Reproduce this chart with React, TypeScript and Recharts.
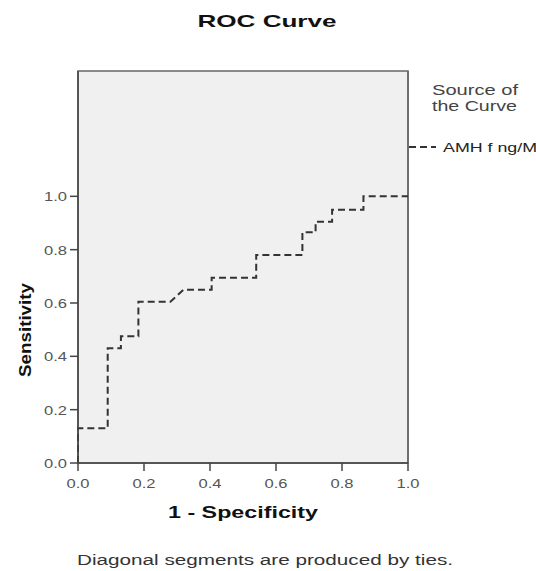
import React from 'react';
import {
  LineChart,
  Line,
  XAxis,
  YAxis,
  ReferenceArea,
  ReferenceLine,
} from 'recharts';

// ROC points (1 - specificity, sensitivity)
const fpr = [0, 0, 0.09, 0.09, 0.13, 0.13, 0.183, 0.183, 0.28, 0.32, 0.405, 0.405, 0.54, 0.54, 0.68, 0.68, 0.72, 0.72, 0.77, 0.77, 0.865, 0.865, 1.0];
const tpr = [0, 0.13, 0.13, 0.43, 0.43, 0.475, 0.475, 0.605, 0.605, 0.65, 0.65, 0.695, 0.695, 0.78, 0.78, 0.865, 0.865, 0.905, 0.905, 0.95, 0.95, 1.0, 1.0];
const xTicks = [0, 0.2, 0.4, 0.6, 0.8, 1.0];
const yTicks = [0, 0.2, 0.4, 0.6, 0.8, 1.0];
const yTop = 1.47;
const seriesName = 'AMH f ng/Ml';

const data = fpr.map((x, i) => ({ x, y: tpr[i] }));

const FONT = '"Liberation Sans", Arial, sans-serif';
const TICK_COLOR = '#555';

const XTick = (props: any) => {
  const { x, y, payload } = props;
  return (
    <text x={x} y={y + 15} textAnchor="middle" fontFamily={FONT} fontSize={13} fill={TICK_COLOR}
      textLength={23} lengthAdjust="spacingAndGlyphs">
      {Number(payload.value).toFixed(1)}
    </text>
  );
};

const YTick = (props: any) => {
  const { x, y, payload } = props;
  return (
    <text x={x - 1} y={y + 5} textAnchor="end" fontFamily={FONT} fontSize={13} fill={TICK_COLOR}
      textLength={23} lengthAdjust="spacingAndGlyphs">
      {Number(payload.value).toFixed(1)}
    </text>
  );
};

export default function App() {
  return (
    <div style={{ position: 'absolute', left: 0, top: 0, width: 536, height: 571, background: '#fff', overflow: 'hidden' }}>
      <LineChart
        width={536}
        height={571}
        data={data}
        margin={{ top: 71, right: 128, left: 48, bottom: 78 }}
      >
        <ReferenceArea x1={0} x2={1} y1={0} y2={yTop} fill="#f0f0f0" fillOpacity={1} stroke="#666" strokeWidth={1.5} ifOverflow="extendDomain" />
        <XAxis
          type="number"
          dataKey="x"
          domain={[0, 1]}
          ticks={xTicks}
          height={30}
          tickSize={8}
          axisLine={{ stroke: '#444', strokeWidth: 1.5 }}
          tickLine={{ stroke: '#444', strokeWidth: 1.5 }}
          tick={<XTick />}
        />
        <YAxis
          type="number"
          domain={[0, yTop]}
          ticks={yTicks}
          width={30}
          tickSize={8}
          allowDataOverflow
          axisLine={{ stroke: '#444', strokeWidth: 1.5 }}
          tickLine={{ stroke: '#444', strokeWidth: 1.5 }}
          tick={<YTick />}
        />
        <ReferenceLine x={1} stroke="#666" strokeWidth={1.5} />
        <Line
          type="linear"
          dataKey="y"
          name={seriesName}
          stroke="#333"
          strokeWidth={2}
          strokeDasharray="7 4"
          dot={false}
          isAnimationActive={false}
        />
      </LineChart>
      <svg width={536} height={571} style={{ position: 'absolute', left: 0, top: 0, pointerEvents: 'none' }}>
        <text x={267} y={27} textAnchor="middle" fontFamily={FONT} fontWeight="bold" fontSize={17} fill="#111"
          textLength={139} lengthAdjust="spacingAndGlyphs">ROC Curve</text>
        <text x={243} y={518} textAnchor="middle" fontFamily={FONT} fontWeight="bold" fontSize={17} fill="#111"
          textLength={150} lengthAdjust="spacingAndGlyphs">1 - Specificity</text>
        <text transform="translate(31,330) rotate(-90)" textAnchor="middle" fontFamily={FONT} fontWeight="bold" fontSize={17} fill="#111"
          textLength={94} lengthAdjust="spacingAndGlyphs">Sensitivity</text>
        <text x={265} y={565} textAnchor="middle" fontFamily={FONT} fontSize={14} fill="#333"
          textLength={376} lengthAdjust="spacingAndGlyphs">Diagonal segments are produced by ties.</text>
        <text x={432} y={95} fontFamily={FONT} fontSize={14} fill="#444"
          textLength={86} lengthAdjust="spacingAndGlyphs">Source of</text>
        <text x={432} y={111} fontFamily={FONT} fontSize={14} fill="#444"
          textLength={85} lengthAdjust="spacingAndGlyphs">the Curve</text>
        <line x1={409} y1={147} x2={436} y2={147} stroke="#333" strokeWidth={2} strokeDasharray="7 4" />
        <text x={443} y={152} fontFamily={FONT} fontSize={13} fill="#222"
          textLength={98} lengthAdjust="spacingAndGlyphs">{seriesName}</text>
      </svg>
    </div>
  );
}
